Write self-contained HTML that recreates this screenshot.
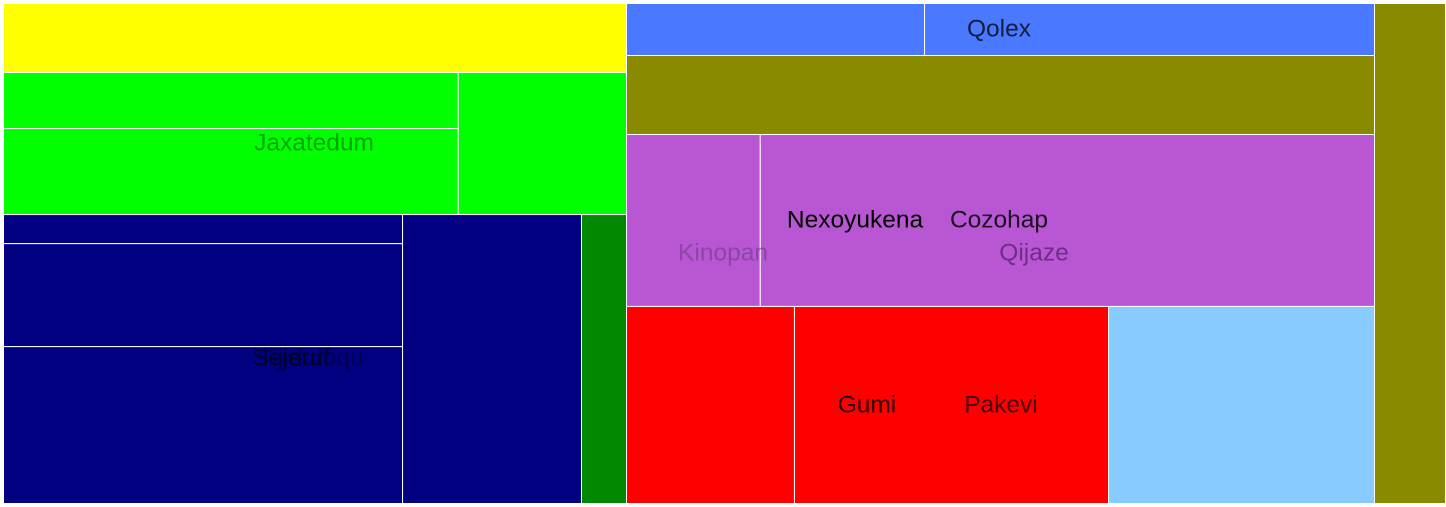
<!DOCTYPE html>
<html><head><meta charset="utf-8"><style>
html,body{margin:0;padding:0;background:#fff;width:1446px;height:507px;overflow:hidden}
svg{display:block}
text{font-family:"Liberation Sans",sans-serif;font-size:24.5px;text-anchor:middle;dominant-baseline:middle}
</style></head><body>
<svg id="chart" width="1446" height="507"></svg>
<script>
// Leaf values (thousands of area units), grouped in slice-and-dice order
const leafNames = ["yellow-top","green-a1","green-a2","green-b","navy-a1","navy-a2","navy-a3","navy-b","darkgreen",
  "blue-a","blue-b","olive-mid","purple-a","purple-b","red-a","red-b","lightblue","olive-strip"];
const leafValues = [43.0,25.5,39.1,23.9,11.6,41.1,62.6,51.7,13.0,15.5,23.4,59.1,23.0,105.6,33.1,61.9,52.4,35.5];
const leafColors = ["#ffff00","#00ff00","#00ff00","#00ff00","#000080","#000080","#000080","#000080","#008800",
  "#4a78ff","#4a78ff","#8a8a00","#b856d4","#b856d4","#ff0000","#ff0000","#87cbff","#8a8a00"];
// tree structure: nested arrays of leaf indices, alternating h/v split
const tree = [[0,[[1,2],3],[[4,5,6],7,8]],[[9,10],11,[12,13],[14,15,16]],17];
const labelTexts = ["Jaxatedum","Sejeruf","Tijidufoqu","Qolex","Nexoyukena","Cozohap","Kinopan","Qijaze","Gumi","Pakevi"];
const labelX = [314,291,311,999,855,999,723,1034,867,1001];
const labelY = [144,359,359,30,221,221,254,254,406,406];
const labelColors = ["rgba(0,90,0,0.55)","rgba(0,0,0,0.6)","rgba(0,0,0,0.4)","rgba(0,0,0,0.75)","#000","rgba(0,0,0,0.85)","rgba(110,60,130,0.6)","rgba(80,30,100,0.7)","rgba(0,0,0,0.85)","rgba(0,0,0,0.7)"];

const svg=document.getElementById('chart');
const NS='http://www.w3.org/2000/svg';
function sum(n){return Array.isArray(n)?n.reduce((a,c)=>a+sum(c),0):leafValues[n];}
function layout(node,x,y,w,h,horiz){
  if(!Array.isArray(node)){
    const r=document.createElementNS(NS,'rect');
    r.setAttribute('x',x);r.setAttribute('y',y);r.setAttribute('width',w);r.setAttribute('height',h);
    r.setAttribute('fill',leafColors[node]);r.setAttribute('stroke','#fff');r.setAttribute('stroke-width','1');
    
    
    svg.appendChild(r);return;
  }
  const t=sum(node);let off=0;
  node.forEach(c=>{const f=sum(c)/t;
    if(horiz){layout(c,x+off*w,y,f*w,h,!horiz);}else{layout(c,x,y+off*h,w,f*h,!horiz);}
    off+=f;});
}
layout(tree,3.5,3.5,1442,500,true);
labelTexts.forEach((s,i)=>{
  const t=document.createElementNS(NS,'text');
  t.setAttribute('x',labelX[i]);t.setAttribute('y',labelY[i]);t.setAttribute('fill',labelColors[i]);
  t.textContent=s;
  
  
  svg.appendChild(t);
});
</script>
</body></html>
